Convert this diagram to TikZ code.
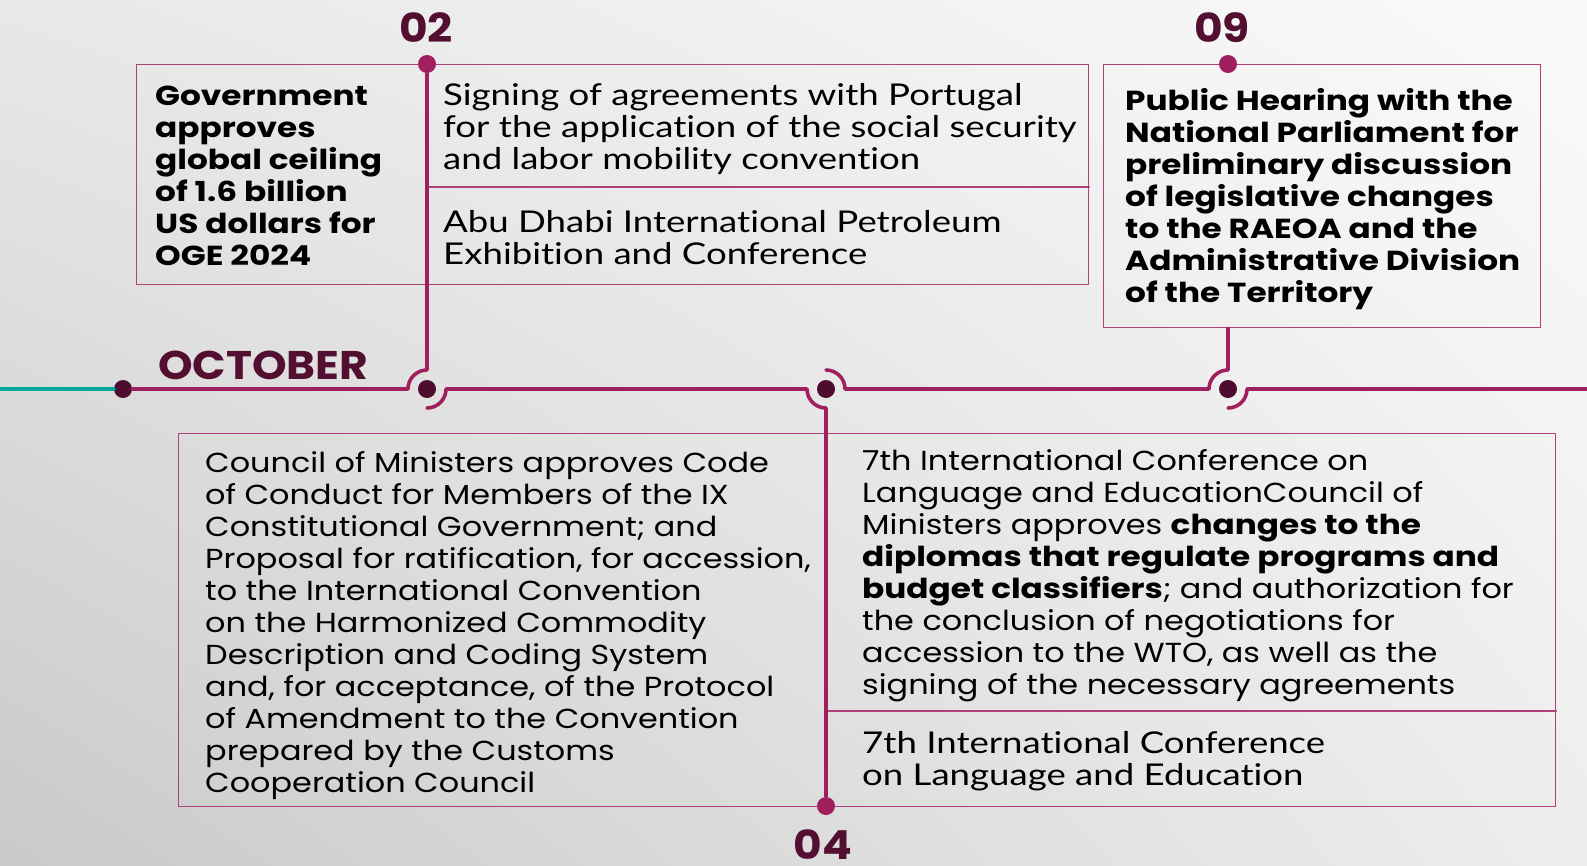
\documentclass[tikz,border=0pt]{standalone}
\usepackage{fontspec}
\setmainfont{Poppins}[FakeStretch=1.16,BoldFeatures={FakeStretch=1.19}]
\newfontfamily\lightfont{Lato}[FakeStretch=1.22,Ligatures=NoCommon]
\newfontfamily\labelfont{Poppins}[FakeStretch=1.1]
\usetikzlibrary{shadings}
\definecolor{lineplum}{HTML}{A0205F}
\definecolor{boxplum}{HTML}{B0407A}
\definecolor{dotplum}{HTML}{4E0D2E}
\definecolor{labelplum}{HTML}{520F31}
\definecolor{startteal}{HTML}{00A79D}
\newcommand{\arcr}{19pt}

\begin{document}
\begin{tikzpicture}[
  x=1pt,
  y=-1pt,
  line join=round,
  line cap=round,
  tline/.style={draw=lineplum,line width=3.6pt},
  frame/.style={draw=boxplum,line width=1.3pt,inner sep=0pt,anchor=north west},
  divider/.style={draw=boxplum,line width=1.3pt},
  bigdot/.style={circle,fill=dotplum,inner sep=0pt,minimum size=18pt},
  tipdot/.style={circle,fill=lineplum,inner sep=0pt,minimum size=18pt},
  daylabel/.style={font=\fontsize{40}{40}\selectfont\labelfont\bfseries,text=labelplum,inner sep=0pt},
  evtext/.style={anchor=base west,inner sep=0pt,align=left,font=\fontsize{27.5}{32}\selectfont},
  boldtext/.style={evtext,font=\fontsize{27.5}{32}\selectfont\bfseries},
  lighttext/.style={evtext,font=\fontsize{30}{32}\selectfont\lightfont}
]
  % Page and soft grey background.
  \useasboundingbox (0,0) rectangle (1587,865);
  \shade[upper left=black!9,upper right=black!2,lower left=black!21,lower right=black!7]
    (0,0) rectangle (1587,865);

  % Event frames.
  \node[frame,minimum width=952pt,minimum height=220pt] (box02) at (136,64) {};
  \node[frame,minimum width=437pt,minimum height=263pt] (box09) at (1103,64) {};
  \node[frame,minimum width=1377pt,minimum height=373pt] (box04) at (178,433) {};
  \draw[divider] (427,187) -- (box02.east |- 0,187);
  \draw[divider] (826,711) -- (box04.east |- 0,711);

  % Timeline dots.
  \coordinate (tstart) at (0,389);
  \coordinate (tend) at (1587,389);
  \node[bigdot] (t0) at (123,389) {};
  \node[bigdot] (tA) at (427,389) {};
  \node[bigdot] (tB) at (826,389) {};
  \node[bigdot] (tC) at (1228,389) {};
  \node[tipdot] (tip02) at (427,64) {};
  \node[tipdot] (tip04) at (826,806) {};
  \node[tipdot] (tip09) at (1228,64) {};

  % Timeline with the rounded hooks round each day.
  \draw[tline,draw=startteal] (tstart) -- (t0);
  \draw[tline] (t0) -- ([xshift=-\arcr]tA.center) arc[start angle=180,end angle=90,radius=\arcr] -- (tip02);
  \draw[tline] ([yshift=-\arcr]tA.center) arc[start angle=270,end angle=360,radius=\arcr]
    -- ([xshift=-\arcr]tB.center) arc[start angle=180,end angle=270,radius=\arcr] -- (tip04);
  \draw[tline] ([yshift=\arcr]tB.center) arc[start angle=90,end angle=0,radius=\arcr]
    -- ([xshift=-\arcr]tC.center) arc[start angle=180,end angle=90,radius=\arcr] -- (box09.south -| tC);
  \draw[tline] ([yshift=-\arcr]tC.center) arc[start angle=270,end angle=360,radius=\arcr] -- (tend);

  % Day and month labels.
  \node[daylabel] (lab02) at (426,28) {02};
  \node[daylabel] (lab09) at (1222,28) {09};
  \node[daylabel] (lab04) at (823,845) {04};
  \node[daylabel,anchor=base west] (laboct) at (158,379) {OCTOBER};

  % Event texts (anchored at the baseline of their last line).
  \node[boldtext] (txtoge) at (155,265)
    {Government\\approves\\global ceiling\\of 1.6 billion\\US dollars for\\OGE 2024};
  \node[lighttext] (txtportugal) at (443,169)
    {Signing of agreements with Portugal\\for the application of the social security\\and labor mobility convention};
  \node[lighttext] (txtabu) at (443,264)
    {Abu Dhabi International Petroleum\\Exhibition and Conference};
  \node[boldtext] (txthearing) at (1125,302)
    {Public Hearing with the\\National Parliament for\\preliminary discussion\\of legislative changes\\to the RAEOA and the\\Administrative Division\\of the Territory};
  \node[evtext] (txtcouncil) at (205,792)
    {Council of Ministers approves Code\\of Conduct for Members of the IX\\Constitutional Government; and\\Proposal for ratification, for accession,\\to the International Convention\\on the Harmonized Commodity\\Description and Coding System\\and, for acceptance, of the Protocol\\of Amendment to the Convention\\prepared by the Customs\\Cooperation Council};
  \node[evtext] (txtlanguage) at (862,694)
    {7th International Conference on\\Language and EducationCouncil of\\Ministers approves \textbf{changes to the}\\\textbf{diplomas that regulate programs and}\\\textbf{budget classifiers}; and authorization for\\the conclusion of negotiations for\\accession to the WTO, as well as the\\signing of the necessary agreements};
  \node[lighttext] (txtconf) at (862,785)
    {7th International Conference\\on Language and Education};
\end{tikzpicture}
\end{document}
